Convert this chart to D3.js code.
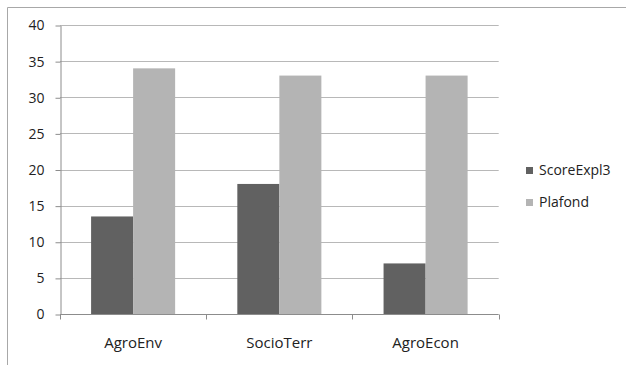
<!DOCTYPE html>
<html>
<head>
<meta charset="utf-8">
<script src="https://cdn.jsdelivr.net/npm/d3@7"></script>
<style>
  body { margin: 0; background: #fff; }
  svg text { font-family: "Open Sans", sans-serif; fill: #222; }
</style>
</head>
<body>
<div id="chart"></div>
<script>
var categories = ["AgroEnv", "SocioTerr", "AgroEcon"];
var seriesNames = ["ScoreExpl3", "Plafond"];
var scoreExpl3 = [13.5, 18, 7];
var plafond = [34, 33, 33];
var yTicks = [0, 5, 10, 15, 20, 25, 30, 35, 40];
var colors = ["#616161", "#b4b4b4"];

var W = 626, H = 365;
var plot = { left: 60, right: 498.7, top: 25, bottom: 314 };

var svg = d3.select("#chart").append("svg")
    .attr("width", W)
    .attr("height", H);

// outer frame (only top and left edges visible)
svg.append("path")
    .attr("d", "M7.5,365 V7.5 H626")
    .attr("fill", "none")
    .attr("stroke", "#a8a8a8")
    .attr("stroke-width", 1);

var x = d3.scaleBand()
    .domain(categories)
    .range([plot.left, plot.right])
    .paddingInner(0)
    .paddingOuter(0);

var x1 = d3.scaleBand()
    .domain(seriesNames)
    .range([0, x.bandwidth()])
    .paddingInner(0)
    .paddingOuter(0.74);

var y = d3.scaleLinear()
    .domain([0, 40])
    .range([plot.bottom, plot.top]);

// gridlines
svg.append("g")
    .selectAll("line")
    .data(yTicks.filter(function (d) { return d > 0; }))
    .enter()
    .append("line")
    .attr("x1", plot.left)
    .attr("x2", plot.right)
    .attr("y1", function (d) { return Math.round(y(d)) + 0.5; })
    .attr("y2", function (d) { return Math.round(y(d)) + 0.5; })
    .attr("stroke", "#b8b8b8");

// y axis
var yAxis = svg.append("g")
    .attr("transform", "translate(" + (plot.left + 0.5) + ",0.5)")
    .call(d3.axisLeft(y).tickValues(yTicks).tickSize(5).tickPadding(11).tickSizeOuter(0));
yAxis.select(".domain").attr("stroke", "#8c8c8c");
yAxis.selectAll(".tick line").attr("stroke", "#8c8c8c");
yAxis.selectAll(".tick text").style("font-size", "14px").attr("fill", "#222");

// bars
var data = categories.map(function (c, i) {
    return { cat: c, values: [scoreExpl3[i], plafond[i]] };
});

var groups = svg.append("g")
    .selectAll("g")
    .data(data)
    .enter()
    .append("g")
    .attr("transform", function (d) { return "translate(" + x(d.cat) + ",0)"; });

groups.selectAll("rect")
    .data(function (d) {
        return d.values.map(function (v, j) { return { key: seriesNames[j], value: v, idx: j }; });
    })
    .enter()
    .append("rect")
    .attr("x", function (d) { return x1(d.key); })
    .attr("width", x1.bandwidth())
    .attr("y", function (d) { return y(d.value); })
    .attr("height", function (d) { return plot.bottom - y(d.value); })
    .attr("fill", function (d) { return colors[d.idx]; });

// x axis
var xAxis = svg.append("g")
    .attr("transform", "translate(0," + (plot.bottom + 0.5) + ")");
xAxis.append("line")
    .attr("x1", plot.left)
    .attr("x2", plot.right)
    .attr("stroke", "#8c8c8c");
var xTickPos = categories.map(function (c) { return x(c); }).concat([plot.right]);
xAxis.selectAll(".xt")
    .data(xTickPos)
    .enter()
    .append("line")
    .attr("class", "xt")
    .attr("x1", function (d) { return Math.round(d) + 0.5; })
    .attr("x2", function (d) { return Math.round(d) + 0.5; })
    .attr("y1", 0)
    .attr("y2", 5)
    .attr("stroke", "#8c8c8c");
xAxis.selectAll("text")
    .data(categories)
    .enter()
    .append("text")
    .attr("x", function (d) { return x(d) + x.bandwidth() / 2; })
    .attr("y", 33)
    .attr("text-anchor", "middle")
    .style("font-size", "15px")
    .text(function (d) { return d; });

// legend
var legend = svg.append("g");
seriesNames.forEach(function (s, i) {
    var ly = 170 + i * 32;
    legend.append("rect")
        .attr("x", 526)
        .attr("y", ly - 3)
        .attr("width", 7)
        .attr("height", 7)
        .attr("fill", colors[i]);
    legend.append("text")
        .attr("x", 539)
        .attr("y", ly + 5)
        .style("font-size", "14px")
        .text(s);
});
</script>
</body>
</html>
